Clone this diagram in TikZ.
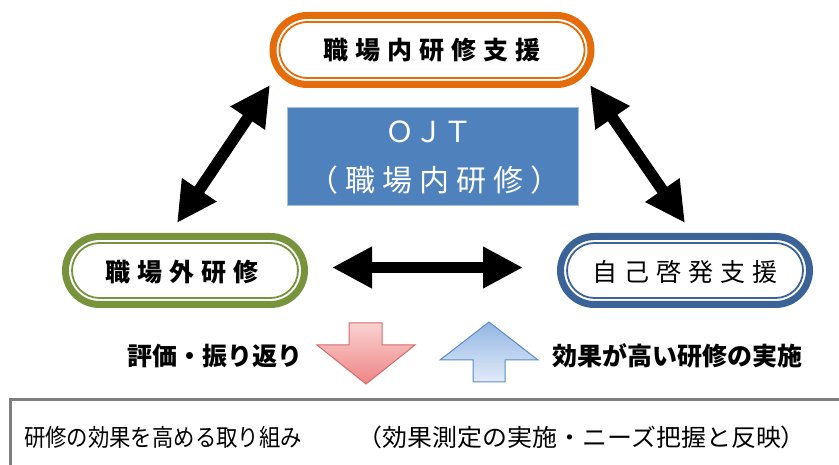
\documentclass[tikz,border=0pt]{standalone}
\usepackage{graphicx}
\usepackage{fontspec}
\newfontfamily\jp{Noto Sans CJK JP}
\usetikzlibrary{arrows.meta,shapes.misc}
\definecolor{orangeC}{HTML}{E46C0A}
\definecolor{greenC}{HTML}{77933C}
\definecolor{blueC}{HTML}{3B6398}
\definecolor{ojtC}{HTML}{4F81BD}
\definecolor{ojtEdge}{HTML}{A7C0E0}
\definecolor{redTop}{HTML}{FAD2D2}
\definecolor{redBot}{HTML}{EE8585}
\definecolor{redEdge}{HTML}{D66A6A}
\definecolor{bluTop}{HTML}{92B6E4}
\definecolor{bluBot}{HTML}{E2EBF8}
\definecolor{bluEdge}{HTML}{5B8BC9}
\definecolor{boxEdge}{HTML}{7F7F7F}
\newcommand\jsp{\kern7pt\relax}
\newcommand\jsq{\kern7pt\relax}
\begin{document}
\begin{tikzpicture}[x=1pt,y=-1pt,
  pill/.style={rounded rectangle, line width=7pt, inner sep=0pt},
  pillin/.style={rounded rectangle, line width=1.8pt, inner sep=0pt},
  pilltext/.style={font=\jp\bfseries\fontsize{25}{30}\selectfont, inner sep=0pt},
  pilltextR/.style={font=\jp\fontsize{25}{30}\selectfont, inner sep=0pt},
  labeltext/.style={font=\jp\bfseries\fontsize{25}{30}\selectfont, inner sep=0pt, anchor=west},
  bigarrow/.style={line width=11.5pt, {Triangle[length=40pt,width=39pt]}-{Triangle[length=40pt,width=39pt]}},
]
\useasboundingbox (0,0) rectangle (839,465);
\clip (0,0) rectangle (839,465);
\fill[white] (0,0) rectangle (839,465);

% top pill
\node[pill, draw=orangeC, minimum width=318pt, minimum height=69pt] (top) at (432,50) {};
\node[pillin, draw=orangeC, minimum width=305pt, minimum height=56pt] (topin) at (top.center) {};
\node[pilltext] (toptext) at (top.center) {職\jsp 場\jsp 内\jsp 研\jsp 修\jsp 支\jsp 援};

% left pill
\node[pill, draw=greenC, minimum width=239pt, minimum height=68pt] (left) at (185,270.5) {};
\node[pillin, draw=greenC, minimum width=226pt, minimum height=55pt] (leftin) at (left.center) {};
\node[pilltext] (lefttext) at (182,272) {職\jsp 場\jsp 外\jsp 研\jsp 修};

% right pill
\node[pill, draw=blueC, minimum width=249pt, minimum height=68pt] (right) at (685,270.5) {};
\node[pillin, draw=blueC, minimum width=236pt, minimum height=55pt] (rightin) at (right.center) {};
\node[pilltextR] (righttext) at (685,272) {自\jsp 己\jsp 啓\jsp 発\jsp 支\jsp 援};

% OJT box
\node[fill=ojtC, draw=ojtEdge, line width=1pt, minimum width=291pt, minimum height=98pt, inner sep=0pt] (ojt) at (432.5,157) {};
\node[font=\jp\fontsize{29}{30}\selectfont, text=white, inner sep=0pt] (ojt1) at (429,132) {ＯＪＴ};
\node[font=\jp\fontsize{30}{32}\selectfont, text=white, inner sep=0pt] (ojt2) at (434.5,180) {（\jsq 職\jsq 場\jsq 内\jsq 研\jsq 修\jsq ）};

% black double arrows
\coordinate (la1) at (177,223);
\coordinate (la2) at (270,85);
\coordinate (ra1) at (590,85);
\coordinate (ra2) at (685,223);
\coordinate (ha1) at (332,267.5);
\coordinate (ha2) at (523,267.5);
\draw[bigarrow] (la1) -- (la2);
\draw[bigarrow] (ra1) -- (ra2);
\draw[bigarrow] (ha1) -- (ha2);

% block arrows
\draw[draw=redEdge, line width=1pt, top color=redTop, bottom color=redBot, line join=miter]
  (349,323) -- (382,323) -- (382,345) -- (415,345) -- (366,384) -- (317,345) -- (349,345) -- cycle;
\draw[draw=bluEdge, line width=1pt, top color=bluTop, bottom color=bluBot, line join=miter]
  (489,322) -- (538,360) -- (505,360) -- (505,382) -- (473,382) -- (473,360) -- (440,360) -- cycle;

% labels
\node[labeltext] (lab1) at (127,356) {評価・振り返り};
\node[labeltext] (lab2) at (552,356) {効果が高い研修の実施};

% bottom box
\node[draw=boxEdge, line width=2.5pt, anchor=north west, minimum width=880pt, minimum height=120pt, inner sep=0pt] (bbox) at (9,398) {};
\node[font=\jp\fontsize{24}{28}\selectfont, inner sep=0pt, anchor=west] (btext) at (24,437) {\scalebox{0.89}[1]{研修の効果を高める取り組み}\hspace{56pt}\scalebox{1.04}[1]{（効果測定の実施・ニーズ把握と反映）}};
\end{tikzpicture}
\end{document}
